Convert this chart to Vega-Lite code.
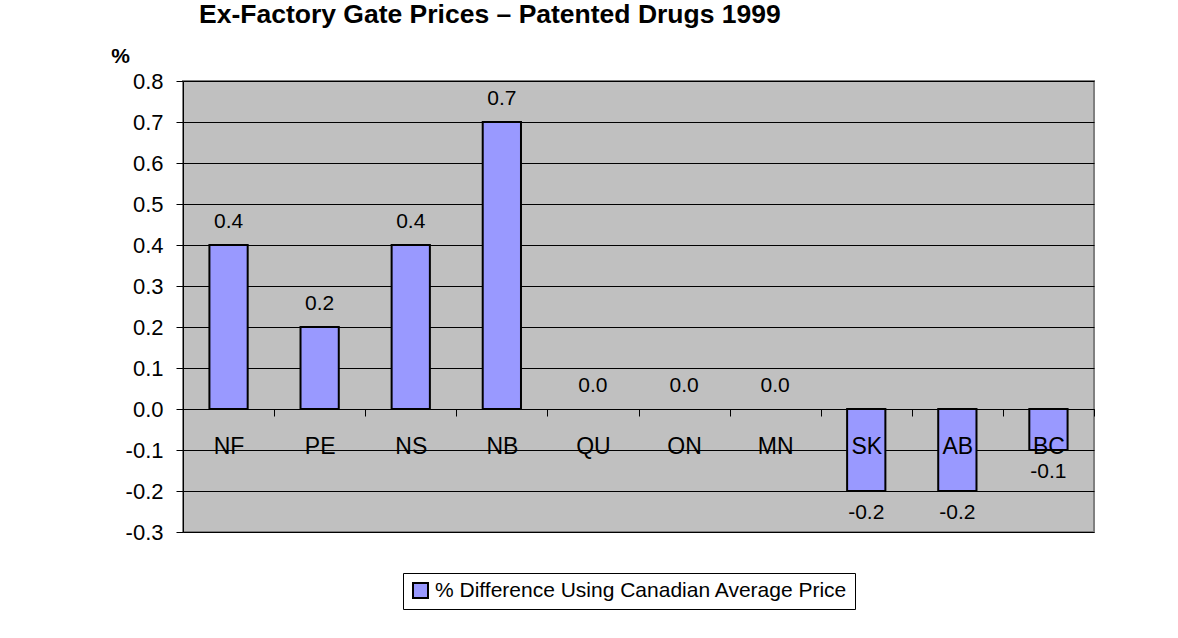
{
  "$schema": "https://vega.github.io/schema/vega-lite/v6.json",
  "width": 911,
  "height": 451,
  "autosize": "none",
  "padding": {"left": 183, "top": 81, "right": 84, "bottom": 106},
  "background": "white",
  "title": {
    "text": "Ex-Factory Gate Prices – Patented Drugs 1999",
    "anchor": "start",
    "frame": "group",
    "dx": 16,
    "dy": 10,
    "offset": 6,
    "baseline": "alphabetic",
    "font": "Liberation Sans",
    "fontSize": 26.5,
    "fontWeight": "bold",
    "color": "black"
  },
  "config": {
    "font": "Liberation Sans",
    "locale": {"number": {"decimal": ".", "thousands": ",", "grouping": [3], "currency": ["$", ""], "minus": "-"}},
    "view": {"stroke": "#808080", "strokeWidth": 2, "fill": "#c0c0c0"}
  },
  "data": {
    "values": [
      {"province": "NF", "value": 0.4, "series": "% Difference Using Canadian Average Price"},
      {"province": "PE", "value": 0.2, "series": "% Difference Using Canadian Average Price"},
      {"province": "NS", "value": 0.4, "series": "% Difference Using Canadian Average Price"},
      {"province": "NB", "value": 0.7, "series": "% Difference Using Canadian Average Price"},
      {"province": "QU", "value": 0.0, "series": "% Difference Using Canadian Average Price"},
      {"province": "ON", "value": 0.0, "series": "% Difference Using Canadian Average Price"},
      {"province": "MN", "value": 0.0, "series": "% Difference Using Canadian Average Price"},
      {"province": "SK", "value": -0.2, "series": "% Difference Using Canadian Average Price"},
      {"province": "AB", "value": -0.2, "series": "% Difference Using Canadian Average Price"},
      {"province": "BC", "value": -0.1, "series": "% Difference Using Canadian Average Price"}
    ]
  },
  "encoding": {
    "x": {
      "field": "province",
      "type": "nominal",
      "sort": ["NF", "PE", "NS", "NB", "QU", "ON", "MN", "SK", "AB", "BC"],
      "scale": {"domain": ["NF", "PE", "NS", "NB", "QU", "ON", "MN", "SK", "AB", "BC"], "paddingInner": 0, "paddingOuter": 0},
      "axis": {
        "orient": "bottom",
        "offset": -123,
        "title": null,
        "labelAngle": 0,
        "tickBand": "extent",
        "tickSize": 7,
        "tickColor": "black",
        "domainColor": "black",
        "labelFontSize": 23,
        "labelColor": "black",
        "labelPadding": 19,
        "grid": false,
        "zindex": 1
      }
    },
    "y": {
      "field": "value",
      "type": "quantitative",
      "scale": {"domain": [-0.3, 0.8], "nice": false},
      "axis": {
        "values": [-0.3, -0.2, -0.1, 0, 0.1, 0.2, 0.3, 0.4, 0.5, 0.6, 0.7, 0.8],
        "format": ".1f",
        "tickSize": 7,
        "tickColor": "black",
        "domainColor": "black",
        "labelFontSize": 22,
        "labelColor": "black",
        "labelPadding": 13,
        "grid": true,
        "gridColor": "black",
        "gridOpacity": 1,
        "title": "%",
        "titleAngle": 0,
        "titleX": -63,
        "titleY": -19,
        "titleAlign": "center",
        "titleBaseline": "alphabetic",
        "titleFontSize": 21,
        "titleFontWeight": "bold",
        "titleColor": "black"
      }
    }
  },
  "layer": [
    {
      "transform": [{"filter": "datum.value != 0"}],
      "mark": {"type": "bar", "width": {"band": 0.42}, "stroke": "black", "strokeWidth": 2, "opacity": 1},
      "encoding": {
        "color": {
          "field": "series",
          "type": "nominal",
          "scale": {"range": ["#9999ff"]},
          "legend": {
            "orient": "none",
            "legendX": 220,
            "legendY": 492,
            "title": null,
            "strokeColor": "black",
            "fillColor": "white",
            "padding": 7,
            "labelFontSize": 21,
            "labelColor": "black",
            "labelFont": "Liberation Sans",
            "labelLimit": 0,
            "symbolType": "square",
            "symbolSize": 225,
            "symbolStrokeColor": "black",
            "symbolStrokeWidth": 2,
            "symbolOpacity": 1,
            "labelOffset": 4
          }
        }
      }
    },
    {
      "transform": [{"filter": "datum.value >= 0"}],
      "mark": {"type": "text", "baseline": "alphabetic", "dy": -17, "fontSize": 21, "color": "black"},
      "encoding": {"text": {"field": "value", "type": "quantitative", "format": ".1f"}}
    },
    {
      "transform": [{"filter": "datum.value < 0"}],
      "mark": {"type": "text", "baseline": "top", "dy": 11, "fontSize": 21, "color": "black"},
      "encoding": {"text": {"field": "value", "type": "quantitative", "format": ".1f"}}
    }
  ]
}
